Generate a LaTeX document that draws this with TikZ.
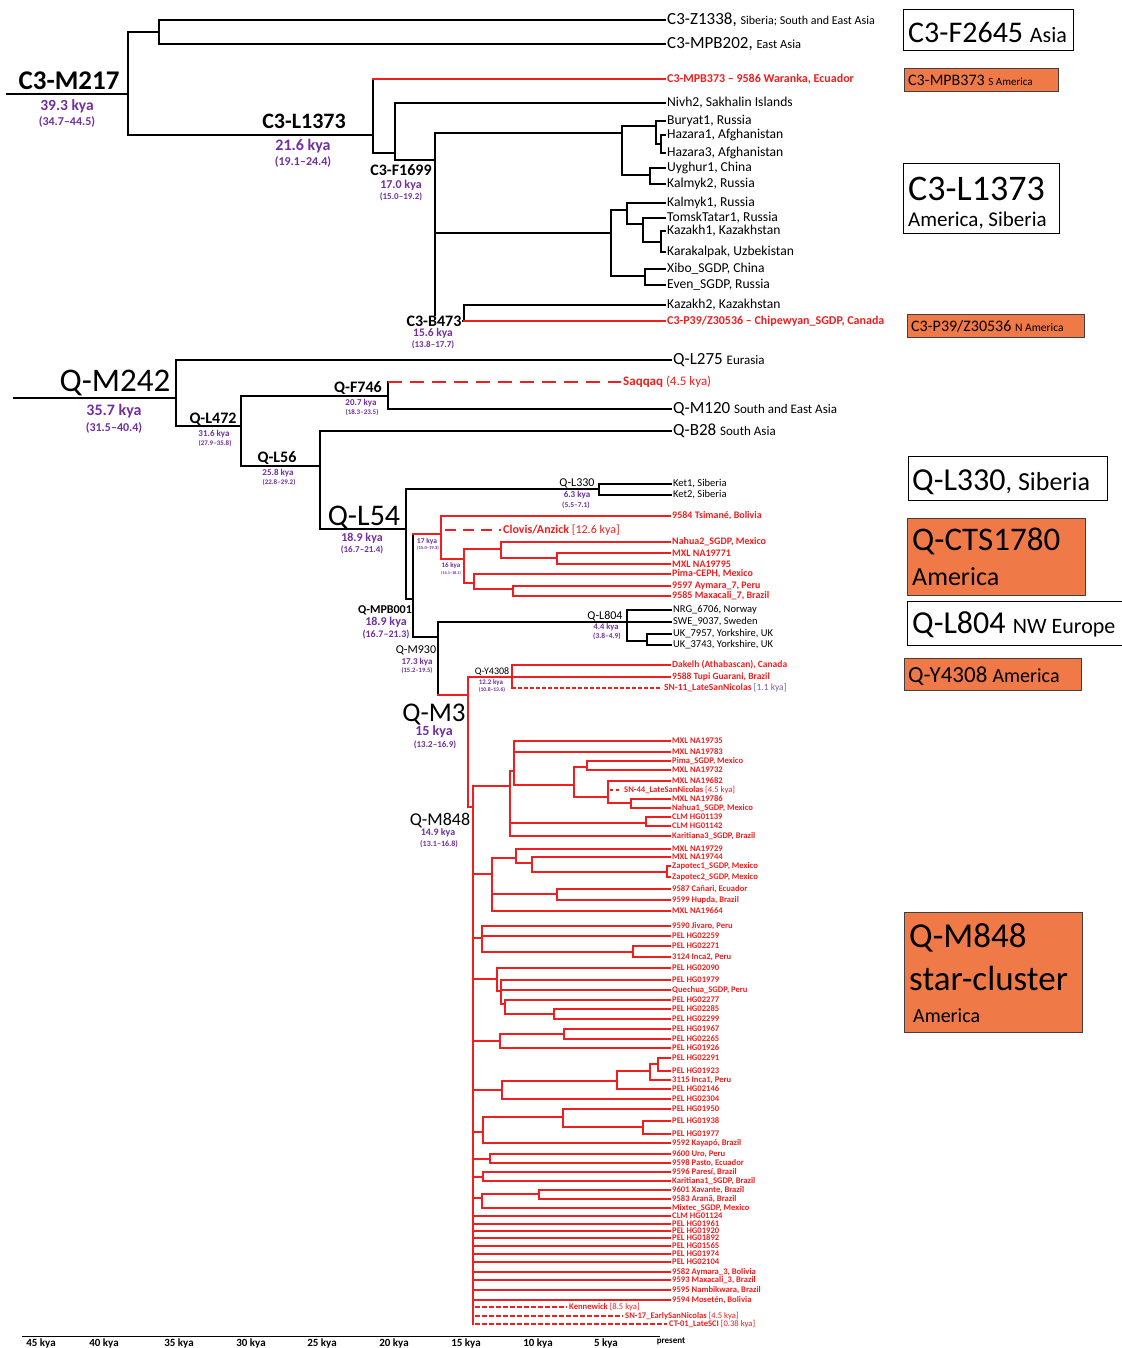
\documentclass[tikz,border=0pt]{standalone}
\usepackage{fontspec}
\setmainfont{Carlito}
\definecolor{tred}{RGB}{240,30,30}
\definecolor{tpur}{RGB}{112,48,160}
\definecolor{torg}{RGB}{240,121,72}
\definecolor{tgry}{RGB}{120,100,150}
\newcommand{\fsz}[1]{\fontsize{#1}{#1}\selectfont}
\newcommand{\mkLeaf}[7]{\node[#1] (#2) at (#6,#5) {#7}; \draw[#3] (#4,#5) -- (#2.west);}
\newcommand{\cLeaf}[4]{\mkLeaf{lc3}{#1}{bl}{#2}{#3}{665}{#4}}
\newcommand{\mLeaf}[4]{\mkLeaf{lm}{#1}{rl}{#2}{#3}{670}{#4}}
\tikzset{
  bl/.style={draw=black,line width=1.4pt,line cap=rect},
  rl/.style={draw=tred,line width=1.4pt,line cap=rect},
  rd/.style={draw=tred,line width=1.4pt,line cap=butt},
  lfbase/.style={anchor=west,inner xsep=2pt,inner ysep=0pt},
  lc3/.style={lfbase,font=\fsz{13.6}},
  lc3r/.style={lfbase,text=tred,font=\bfseries\fsz{12}},
  lq/.style={lfbase,font=\fsz{17}},
  lk/.style={lfbase,font=\fsz{10.5}},
  lr/.style={lfbase,text=tred,font=\bfseries\fsz{10}},
  ly/.style={lfbase,text=tred,font=\bfseries\fsz{9.5}},
  lm/.style={lfbase,text=tred,font=\bfseries\fsz{8.6}},
  nb/.style={anchor=base,inner sep=0pt,font=\bfseries\fsz{#1}},
  nr/.style={anchor=base,inner sep=0pt,font=\fsz{#1}},
  ky/.style={inner sep=0pt,text=tpur,font=\bfseries\fsz{#1}},
  boxw/.style={draw=black,line width=0.8pt,fill=white,anchor=north west,inner sep=0pt},
  boxo/.style={draw=black!75,line width=0.8pt,fill=torg,anchor=north west,inner sep=0pt},
  bt/.style={anchor=base west,inner sep=0pt},
  ax/.style={inner sep=0pt,font=\bfseries\fsz{11}},
}
\begin{document}
\begin{tikzpicture}[x=1pt,y=-1pt]
\useasboundingbox[fill=white] (0,0) rectangle (1121,1348);

% ---------------- C3 tree ----------------
\draw[bl] (7,94) -- (128,94) (128,32) -- (128,135);
\draw[bl] (128,32) -- (159,32) (159,20) -- (159,44);
\cLeaf{c1}{159}{20}{\fsz{17}C3-Z1338, \fsz{12}Siberia; South and East Asia}
\cLeaf{c2}{159}{44}{\fsz{17}C3-MPB202, \fsz{12.5}East Asia}
\draw[bl] (128,135) -- (373,135) (373,79) -- (373,153);
\mkLeaf{lc3r}{c3}{rl}{373}{79}{665}{C3-MPB373 – 9586 Waranka, Ecuador}
\draw[bl] (373,153) -- (395,153) (395,103) -- (395,160);
\cLeaf{c4}{395}{103}{Nivh2, Sakhalin Islands}
\draw[bl] (395,160) -- (435,160) (435,133) -- (435,318);
\draw[bl] (435,133) -- (622,133) (622,126) -- (622,175);
\draw[bl] (622,126) -- (656,126) (656,121) -- (656,144);
\cLeaf{c5}{656}{121}{Buryat1, Russia}
\draw[bl] (656,144) -- (661,144) (661,135) -- (661,153);
\cLeaf{c6}{661}{135}{Hazara1, Afghanistan}
\cLeaf{c7}{661}{153}{Hazara3, Afghanistan}
\draw[bl] (622,175) -- (650,175) (650,168) -- (650,184);
\cLeaf{c8}{650}{168}{Uyghur1, China}
\cLeaf{c9}{650}{184}{Kalmyk2, Russia}
\draw[bl] (435,233) -- (611,233) (611,210) -- (611,276);
\draw[bl] (611,210) -- (627,210) (627,203) -- (627,224);
\cLeaf{c10}{627}{203}{Kalmyk1, Russia}
\draw[bl] (627,224) -- (643,224) (643,218) -- (643,242);
\cLeaf{c11}{643}{218}{TomskTatar1, Russia}
\draw[bl] (643,242) -- (661,242) (661,231) -- (661,252);
\cLeaf{c12}{661}{231}{Kazakh1, Kazakhstan}
\cLeaf{c13}{661}{252}{Karakalpak, Uzbekistan}
\draw[bl] (611,276) -- (645,276) (645,269) -- (645,285);
\cLeaf{c14}{645}{269}{Xibo\_SGDP, China}
\cLeaf{c15}{645}{285}{Even\_SGDP, Russia}
\draw[bl] (435,321) -- (464,321) (464,305) -- (464,321);
\cLeaf{c16}{464}{305}{Kazakh2, Kazakhstan}
\mkLeaf{lc3r}{c17}{rl}{464}{321}{665}{C3-P39/Z30536 – Chipewyan\_SGDP, Canada}

\node[nb=27] (n1) at (69,90) {C3-M217};
\node[ky=15.5] (k1a) at (67,106) {39.3 kya};
\node[ky=12] (k1b) at (67,122) {(34.7–44.5)};
\node[nb=22] (n2) at (304,129) {C3-L1373};
\node[ky=16] (k2a) at (303,146) {21.6 kya};
\node[ky=12] (k2b) at (303,162) {(19.1–24.4)};
\node[nb=16] (n3) at (401,176) {C3-F1699};
\node[ky=12] (k3a) at (401,185) {17.0 kya};
\node[ky=9] (k3b) at (401,197) {(15.0–19.2)};
\node[nb=16,fill=white,inner xsep=1pt] (n4) at (434,326) {C3-B473};
\node[ky=11.5] (k4a) at (433,333) {15.6 kya};
\node[ky=9] (k4b) at (433,345) {(13.8–17.7)};

% ---------------- Q tree ----------------
\draw[bl] (14,398) -- (176,398) (176,360) -- (176,426);
\mkLeaf{lq}{q1}{bl}{176}{360}{671}{Q-L275 \fsz{13}Eurasia}
\draw[bl] (176,426) -- (241,426) (241,396) -- (241,466);
\draw[bl] (241,396) -- (388,396) (388,382) -- (388,409);
\node[lfbase,text=tred,font=\fsz{13}] (q2) at (621,382) {{\bfseries Saqqaq} (4.5 kya)};
\draw[rd,dash pattern=on 14pt off 8pt] (388,382) -- (q2.west);
\mkLeaf{lq}{q3}{bl}{388}{409}{671}{Q-M120 \fsz{13}South and East Asia}
\draw[bl] (241,466) -- (320,466) (320,431) -- (320,529);
\mkLeaf{lq}{q4}{bl}{320}{431}{671}{Q-B28 \fsz{13}South Asia}
\draw[bl] (320,529) -- (406,529) (406,489) -- (406,599);
\draw[bl] (406,489) -- (599,489) (599,484) -- (599,495);
\mkLeaf{lk}{q5}{bl}{599}{484}{671}{Ket1, Siberia}
\mkLeaf{lk}{q6}{bl}{599}{495}{671}{Ket2, Siberia}
\draw[bl] (406,599) -- (413,599) (413,534) -- (413,637);
\draw[rl] (413,534) -- (441,534) (441,516) -- (441,559);
\mkLeaf{lr}{q7}{rl}{441}{516}{670}{9584 Tsimané, Bolivia}
\node[lfbase,text=tred,font=\fsz{12}] (q8) at (501,530) {{\bfseries Clovis/Anzick} [12.6 kya]};
\draw[rd,dash pattern=on 11pt off 7pt] (445,530) -- (q8.west);
\draw[rl] (441,559) -- (464,559) (464,549) -- (464,583);
\draw[rl] (464,549) -- (501,549) (501,542) -- (501,558);
\mkLeaf{lr}{q9}{rl}{501}{542}{670}{Nahua2\_SGDP, Mexico}
\draw[rl] (501,558) -- (557,558) (557,553) -- (557,564);
\mkLeaf{lr}{q10}{rl}{557}{553}{670}{MXL NA19771}
\mkLeaf{lr}{q11}{rl}{557}{564}{670}{MXL NA19795}
\draw[rl] (464,583) -- (474,583) (474,574) -- (474,589);
\mkLeaf{lr}{q12}{rl}{474}{574}{670}{Pima-CEPH, Mexico}
\draw[rl] (474,589) -- (513,589) (513,586) -- (513,596);
\mkLeaf{lr}{q13}{rl}{513}{586}{670}{9597 Aymara\_7, Peru}
\mkLeaf{lr}{q14}{rl}{513}{596}{670}{9585 Maxacali\_7, Brazil}
\draw[bl] (413,637) -- (438,637) (438,622) -- (438,695);
\draw[bl] (438,622) -- (627,622) (627,610) -- (627,641);
\mkLeaf{lk}{q15}{bl}{627}{610}{671}{NRG\_6706, Norway}
\mkLeaf{lk}{q16}{bl}{627}{622}{671}{SWE\_9037, Sweden}
\draw[bl] (627,641) -- (647,641) (647,634) -- (647,645);
\mkLeaf{lk}{q17}{bl}{647}{634}{671}{UK\_7957, Yorkshire, UK}
\mkLeaf{lk}{q18}{bl}{647}{645}{671}{UK\_3743, Yorkshire, UK}
\draw[rl] (438,695) -- (468,695) (468,677) -- (468,807);
\draw[rl] (468,677) -- (512,677) (512,665) -- (512,688);
\mkLeaf{ly}{q19}{rl}{512}{665}{670}{Dakelh (Athabascan), Canada}
\mkLeaf{ly}{q20}{rl}{512}{677}{670}{9588 Tupi Guarani, Brazil}
\node[ly] (q21) at (662,688) {SN-11\_LateSanNicolas {\mdseries\color{tgry}[1.1 kya]}};
\draw[rd,dash pattern=on 4pt off 2pt] (512,688) -- (q21.west);
\draw[rl] (468,807) -- (473,807) (473,786) -- (473,1324);

% M848 group A
\draw[rl] (473,786) -- (510,786) (510,771) -- (510,836);
\draw[rl] (510,771) -- (514,771) (514,741) -- (514,785);
\mLeaf{m1}{514}{741}{MXL NA19735}
\mLeaf{m2}{514}{752}{MXL NA19783}
\draw[rl] (514,785) -- (574,785) (574,767) -- (574,797);
\draw[rl] (574,767) -- (587,767) (587,761) -- (587,770);
\mLeaf{m3}{587}{761}{Pima\_SGDP, Mexico}
\mLeaf{m4}{587}{770}{MXL NA19732}
\draw[rl] (574,797) -- (608,797) (608,781) -- (608,803);
\mLeaf{m5}{608}{781}{MXL NA19682}
\node[lm] (m6) at (622,790) {SN-44\_LateSanNicolas {\mdseries[4.5 kya]}};
\draw[rd,dash pattern=on 3pt off 3pt] (610,790) -- (m6.west);
\draw[rl] (608,803) -- (631,803) (631,799) -- (631,808);
\mLeaf{m7}{631}{799}{MXL NA19786}
\mLeaf{m8}{631}{808}{Nahua1\_SGDP, Mexico}
\draw[rl] (510,823) -- (646,823) (646,817) -- (646,826);
\mLeaf{m9}{646}{817}{CLM HG01139}
\mLeaf{m10}{646}{826}{CLM HG01142}
\mLeaf{m11}{510}{836}{Karitiana3\_SGDP, Brazil}
% group B
\draw[rl] (473,874) -- (492,874) (492,858) -- (492,911);
\draw[rl] (492,858) -- (516,858) (516,849) -- (516,863);
\mLeaf{m12}{516}{849}{MXL NA19729}
\draw[rl] (516,863) -- (532,863) (532,857) -- (532,872);
\mLeaf{m13}{532}{857}{MXL NA19744}
\draw[rl] (532,872) -- (667,872) (667,866) -- (667,877);
\mLeaf{m14}{667}{866}{Zapotec1\_SGDP, Mexico}
\mLeaf{m15}{667}{877}{Zapotec2\_SGDP, Mexico}
\draw[rl] (492,894) -- (557,894) (557,889) -- (557,900);
\mLeaf{m16}{557}{889}{9587 Cañari, Ecuador}
\mLeaf{m17}{557}{900}{9599 Hupda, Brazil}
\mLeaf{m18}{492}{911}{MXL NA19664}
% group C
\draw[rl] (473,938) -- (482,938) (482,926) -- (482,952);
\mLeaf{m19}{482}{926}{9590 Jivaro, Peru}
\mLeaf{m20}{482}{936}{PEL HG02259}
\draw[rl] (482,952) -- (633,952) (633,946) -- (633,957);
\mLeaf{m21}{633}{946}{PEL HG02271}
\mLeaf{m22}{633}{957}{3124 Inca2, Peru}
% group D
\draw[rl] (473,979) -- (497,979) (497,968) -- (497,991);
\mLeaf{m23}{497}{968}{PEL HG02090}
\draw[rl] (497,991) -- (501,991) (501,980) -- (501,1004);
\mLeaf{m24}{501}{980}{PEL HG01979}
\mLeaf{m25}{501}{990}{Quechua\_SGDP, Peru}
\draw[rl] (501,1004) -- (505,1004) (505,1000) -- (505,1014);
\mLeaf{m26}{505}{1000}{PEL HG02277}
\draw[rl] (505,1014) -- (554,1014) (554,1009) -- (554,1019);
\mLeaf{m27}{554}{1009}{PEL HG02285}
\mLeaf{m28}{554}{1019}{PEL HG02299}
% group E
\draw[rl] (473,1041) -- (500,1041) (500,1034) -- (500,1048);
\draw[rl] (500,1034) -- (564,1034) (564,1029) -- (564,1039);
\mLeaf{m29}{564}{1029}{PEL HG01967}
\mLeaf{m30}{564}{1039}{PEL HG02265}
\mLeaf{m31}{500}{1048}{PEL HG01926}
% group F
\draw[rl] (473,1090) -- (502,1090) (502,1081) -- (502,1099);
\draw[rl] (502,1081) -- (617,1081) (617,1071) -- (617,1089);
\draw[rl] (617,1071) -- (650,1071) (650,1064) -- (650,1080);
\draw[rl] (650,1064) -- (658,1064) (658,1058) -- (658,1071);
\mLeaf{m32}{658}{1058}{PEL HG02291}
\mLeaf{m33}{658}{1071}{PEL HG01923}
\mLeaf{m34}{650}{1080}{3115 Inca1, Peru}
\mLeaf{m35}{617}{1089}{PEL HG02146}
\mLeaf{m36}{502}{1099}{PEL HG02304}
% group G
\draw[rl] (473,1132) -- (483,1132) (483,1117) -- (483,1143);
\draw[rl] (483,1117) -- (563,1117) (563,1109) -- (563,1127);
\mLeaf{m37}{563}{1109}{PEL HG01950}
\draw[rl] (563,1127) -- (643,1127) (643,1121) -- (643,1134);
\mLeaf{m38}{643}{1121}{PEL HG01938}
\mLeaf{m39}{643}{1134}{PEL HG01977}
\mLeaf{m40}{483}{1143}{9592 Kayapó, Brazil}
% group H, I, J
\draw[rl] (473,1159) -- (490,1159) (490,1154) -- (490,1163);
\mLeaf{m41}{490}{1154}{9600 Uro, Peru}
\mLeaf{m42}{490}{1163}{9598 Pasto, Ecuador}
\draw[rl] (473,1177) -- (483,1177) (483,1172) -- (483,1181);
\mLeaf{m43}{483}{1172}{9596 Paresí, Brazil}
\mLeaf{m44}{483}{1181}{Karitiana1\_SGDP, Brazil}
\draw[rl] (473,1198) -- (482,1198) (482,1194) -- (482,1208);
\draw[rl] (482,1194) -- (539,1194) (539,1190) -- (539,1199);
\mLeaf{m45}{539}{1190}{9601 Xavante, Brazil}
\mLeaf{m46}{539}{1199}{9583 Aranã, Brazil}
\mLeaf{m47}{482}{1208}{Mixtec\_SGDP, Mexico}
% direct leaves
\mLeaf{m48}{473}{1216}{CLM HG01124}
\mLeaf{m49}{473}{1224}{PEL HG01961}
\mLeaf{m50}{473}{1231}{PEL HG01920}
\mLeaf{m51}{473}{1238}{PEL HG01892}
\mLeaf{m52}{473}{1246}{PEL HG01565}
\mLeaf{m53}{473}{1254}{PEL HG01974}
\mLeaf{m54}{473}{1262}{PEL HG02104}
\mLeaf{m55}{473}{1272}{9582 Aymara\_3, Bolivia}
\mLeaf{m56}{473}{1280}{9593 Maxacali\_3, Brazil}
\mLeaf{m57}{473}{1290}{9595 Nambikwara, Brazil}
\mLeaf{m58}{473}{1300}{9594 Mosetén, Bolivia}
\node[lm] (m59) at (567,1307) {Kennewick {\mdseries[8.5 kya]}};
\draw[rd,dash pattern=on 5pt off 2pt] (475,1307) -- (m59.west);
\node[lm] (m60) at (623,1316) {SN-17\_EarlySanNicolas {\mdseries[4.5 kya]}};
\draw[rd,dash pattern=on 5pt off 2pt] (475,1316) -- (m60.west);
\node[lm] (m61) at (667,1324) {CT-01\_LateSCI {\mdseries[0.38 kya]}};
\draw[rd,dash pattern=on 5pt off 2pt] (475,1324) -- (m61.west);

% Q labels
\node[nr=33] (n5) at (115,391) {Q-M242};
\node[ky=16] (k5a) at (114,411) {35.7 kya};
\node[ky=12] (k5b) at (114,428) {(31.5–40.4)};
\node[nb=16] (n6) at (213,423) {Q-L472};
\node[ky=9] (k6a) at (214,434) {31.6 kya};
\node[ky=7] (k6b) at (215,443) {(27.9–35.8)};
\node[nb=16] (n7) at (358,392) {Q-F746};
\node[ky=9] (k7a) at (361,403) {20.7 kya};
\node[ky=7] (k7b) at (362,412) {(18.3–23.5)};
\node[nb=16] (n8) at (277,462) {Q-L56};
\node[ky=9] (k8a) at (278,473) {25.8 kya};
\node[ky=7] (k8b) at (279,482) {(22.8–29.2)};
\node[nr=30] (n9) at (364,525) {Q-L54};
\node[ky=12] (k9a) at (362,538) {18.9 kya};
\node[ky=9] (k9b) at (362,550) {(16.7–21.4)};
\node[nr=12] (n10) at (577,486) {Q-L330};
\node[ky=9] (k10a) at (577,495) {6.3 kya};
\node[ky=7.5] (k10b) at (576,505) {(5.5–7.1)};
\node[ky=7.5] (k11a) at (427,541) {17 kya};
\node[ky=4.6] (k11b) at (428,548) {(15.0–19.3)};
\node[ky=7] (k12a) at (451,566) {16 kya};
\node[ky=4.2] (k12b) at (451,573) {(14.1–18.1)};
\node[nb=12] (n13) at (385,613) {Q-MPB001};
\node[ky=12] (k13a) at (386,622) {18.9 kya};
\node[ky=10] (k13b) at (386,635) {(16.7–21.3)};
\node[nr=12] (n14) at (605,619) {Q-L804};
\node[ky=8.5] (k14a) at (606,627) {4.4 kya};
\node[ky=7.5] (k14b) at (607,636) {(3.8–4.9)};
\node[nr=12] (n15) at (416,653) {Q-M930};
\node[ky=9] (k15a) at (417,662) {17.3 kya};
\node[ky=6.6] (k15b) at (417,671) {(15.2–19.5)};
\node[nr=10] (n16) at (492,674) {Q-Y4308};
\node[ky=7] (k16a) at (491,683) {12.2 kya};
\node[ky=5.6] (k16b) at (492,690) {(10.8–13.6)};
\node[nr=27] (n17) at (434,721) {Q-M3};
\node[ky=14] (k17a) at (434,732) {15 kya};
\node[ky=9] (k17b) at (435,745) {(13.2–16.9)};
\node[nr=18] (n18) at (440,825) {Q-M848};
\node[ky=10] (k18a) at (438,833) {14.9 kya};
\node[ky=8] (k18b) at (439,844) {(13.1–16.8)};

% ---------------- boxes ----------------
\node[boxw,minimum width=170pt,minimum height=41pt] (b1) at (903,9) {};
\node[bt] (b1t) at (908,43) {\fsz{30}C3-F2645 \fsz{22}Asia};
\node[boxo,minimum width=154pt,minimum height=23pt] (b2) at (904,68) {};
\node[bt] (b2t) at (908,86) {\fsz{16}C3-MPB373 \fsz{11}S America};
\node[boxw,minimum width=156pt,minimum height=70pt] (b3) at (903,163) {};
\node[bt] (b3t) at (908,201) {\fsz{36}C3-L1373};
\node[bt] (b3u) at (908,227) {\fsz{21}America, Siberia};
\node[boxo,minimum width=177pt,minimum height=23pt] (b4) at (907,314) {};
\node[bt] (b4t) at (911,331) {\fsz{16}C3-P39/Z30536 \fsz{11.5}N America};
\node[boxw,minimum width=199pt,minimum height=44pt] (b5) at (908,456) {};
\node[bt] (b5t) at (912,490) {\fsz{32}Q-L330\fsz{26}, Siberia};
\node[boxo,minimum width=178pt,minimum height=77pt] (b6) at (907,518) {};
\node[bt] (b6t) at (912,550) {\fsz{33}Q-CTS1780};
\node[bt] (b6u) at (912,585) {\fsz{26}America};
\node[boxw,minimum width=220pt,minimum height=44pt] (b7) at (907,601) {};
\node[bt] (b7t) at (912,633) {\fsz{32}Q-L804 \fsz{22}NW Europe};
\node[boxo,minimum width=177pt,minimum height=32pt] (b8) at (904,658) {};
\node[bt] (b8t) at (908,682) {\fsz{23}Q-Y4308 \fsz{20}America};
\node[boxo,minimum width=178pt,minimum height=120pt] (b9) at (904,912) {};
\node[bt] (b9t) at (909,947) {\fsz{35}Q-M848};
\node[bt] (b9u) at (909,990) {\fsz{35}star-cluster};
\node[bt] (b9v) at (913,1022) {\fsz{20}America};

% ---------------- axis ----------------
\draw[line width=1pt] (22,1336) -- (660,1336);
\node[ax] (a1) at (41,1343) {45 kya};
\node[ax] (a2) at (104,1343) {40 kya};
\node[ax] (a3) at (179,1343) {35 kya};
\node[ax] (a4) at (251,1343) {30 kya};
\node[ax] (a5) at (322,1343) {25 kya};
\node[ax] (a6) at (394,1343) {20 kya};
\node[ax] (a7) at (466,1343) {15 kya};
\node[ax] (a8) at (538,1343) {10 kya};
\node[ax] (a9) at (606,1343) {5 kya};
\node[inner sep=0pt,font=\bfseries\fsz{9}] (a10) at (671,1341) {present};
\end{tikzpicture}
\end{document}
